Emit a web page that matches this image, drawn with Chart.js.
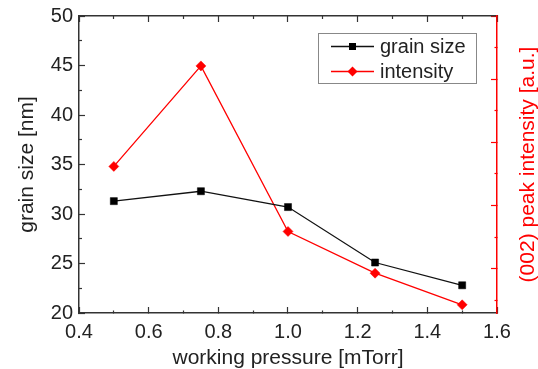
<!DOCTYPE html>
<html>
<head>
<meta charset="utf-8">
<script src="https://cdn.jsdelivr.net/npm/chart.js"></script>
<style>
    html, body { margin: 0; padding: 0; background: #fff; }
    #wrap { width: 538px; height: 369px; }
</style>
</head>
<body>
<div id="wrap"><canvas id="grainChart" width="538" height="369"></canvas></div>
<script>
// values
const pressure = [0.5, 0.75, 1.0, 1.25, 1.5];          // working pressure [mTorr]
const grainSize = [31.3, 32.3, 30.7, 25.1, 22.8];       // grain size [nm]
const peakIntensity = [2.62, 4.21, 1.59, 0.93, 0.43];   // (002) peak intensity [a.u.]

const seriesNames = ['grain size', 'intensity'];
const xTitle = 'working pressure [mTorr]';
const yTitle = 'grain size [nm]';
const y2Title = '(002) peak intensity [a.u.]';

const FONT = "'Liberation Sans', Arial, sans-serif";
const AXIS = '#333';
const TEXT = '#222';
const RED = '#ff0000';
const MAJOR_LEN = 6;
const MINOR_LEN = 3;

function isMajor(value, step) {
    const r = value / step;
    return Math.abs(r - Math.round(r)) < 1e-6;
}

// inward tick marks; minor ticks are shortened with a dash pattern
function tickGrid(color, majorStep, insideFirst) {
    return {
        display: true,
        drawOnChartArea: false,
        drawTicks: true,
        tickLength: -MAJOR_LEN,
        tickColor: color,
        tickWidth: 1.2,
        tickBorderDash: c => (c.tick && !isMajor(c.tick.value, majorStep)) ? [MINOR_LEN, MAJOR_LEN] : [],
        tickBorderDashOffset: c => (c.tick && !isMajor(c.tick.value, majorStep) && insideFirst) ? MAJOR_LEN : 0
    };
}

// fixed box sizes so the plot frame sits where the figure has it
function fixSize(width, height) {
    return s => {
        if (width !== null) s.width = width;
        if (height !== null) s.height = height;
        s.paddingTop = 0;
        s.paddingBottom = 0;
        s.paddingLeft = 0;
        s.paddingRight = 0;
    };
}

// right axis title reads bottom-to-top, plus the boxed legend
const extrasPlugin = {
    id: 'extras',
    afterDraw(chart) {
        const ctx = chart.ctx;
        const area = chart.chartArea;
        ctx.save();
        ctx.font = '21px ' + FONT;
        ctx.fillStyle = RED;
        ctx.textAlign = 'center';
        ctx.textBaseline = 'middle';
        ctx.translate(528, (area.top + area.bottom) / 2);
        ctx.rotate(-Math.PI / 2);
        ctx.fillText(y2Title, 0, 0);
        ctx.restore();

        // legend box
        ctx.save();
        ctx.strokeStyle = '#888';
        ctx.lineWidth = 1;
        ctx.strokeRect(318.5, 33.5, 158, 50);
        chart.data.datasets.forEach((ds, i) => {
            const y = 46.5 + i * 25;
            ctx.strokeStyle = ds.borderColor;
            ctx.lineWidth = ds.borderWidth;
            ctx.beginPath();
            ctx.moveTo(331, y);
            ctx.lineTo(374, y);
            ctx.stroke();
            ctx.fillStyle = ds.pointBackgroundColor;
            ctx.beginPath();
            if (ds.pointStyle === 'rect') {
                ctx.rect(352.5 - 3.5, y - 3.5, 7, 7);
            } else {
                ctx.moveTo(352.5, y - 5);
                ctx.lineTo(357.5, y);
                ctx.lineTo(352.5, y + 5);
                ctx.lineTo(347.5, y);
                ctx.closePath();
            }
            ctx.fill();
            ctx.fillStyle = TEXT;
            ctx.font = '20px ' + FONT;
            ctx.textAlign = 'left';
            ctx.textBaseline = 'middle';
            ctx.fillText(ds.label, 380, y + 1);
        });
        ctx.restore();
    }
};

function createGrainChart() {
    const ctx = document.getElementById('grainChart').getContext('2d');
    const tickFont = { family: FONT, size: 20 };
    const titleFont = { family: FONT, size: 21 };

    window.grainChart = new Chart(ctx, {
        type: 'line',
        data: {
            datasets: [
                {
                    label: seriesNames[0],
                    data: pressure.map((p, i) => ({ x: p, y: grainSize[i] })),
                    xAxisID: 'x',
                    yAxisID: 'y',
                    borderColor: '#111',
                    borderWidth: 1.3,
                    pointStyle: 'rect',
                    pointRadius: 5,
                    pointBorderWidth: 0.5,
                    pointBackgroundColor: '#000',
                    pointBorderColor: '#000',
                    tension: 0,
                    fill: false
                },
                {
                    label: seriesNames[1],
                    data: pressure.map((p, i) => ({ x: p, y: peakIntensity[i] })),
                    xAxisID: 'x',
                    yAxisID: 'y2',
                    borderColor: RED,
                    borderWidth: 1.3,
                    pointStyle: 'rectRot',
                    pointRadius: 5,
                    pointBorderWidth: 0.5,
                    pointBackgroundColor: RED,
                    pointBorderColor: RED,
                    tension: 0,
                    fill: false
                }
            ]
        },
        options: {
            responsive: false,
            animation: false,
            layout: { padding: 0 },
            plugins: {
                legend: { display: false },
                tooltip: { enabled: false }
            },
            scales: {
                x: {
                    type: 'linear',
                    position: 'bottom',
                    min: 0.4,
                    max: 1.6,
                    afterFit: fixSize(null, 56),
                    grid: tickGrid(AXIS, 0.2, false),
                    border: { display: true, color: AXIS, width: 1.5 },
                    ticks: {
                        stepSize: 0.1,
                        autoSkip: false,
                        maxRotation: 0,
                        padding: 13,
                        color: TEXT,
                        font: tickFont,
                        callback: v => isMajor(v, 0.2) ? v.toFixed(1) : ''
                    },
                    title: {
                        display: true,
                        text: xTitle,
                        color: TEXT,
                        font: titleFont,
                        padding: { top: 0, bottom: -2 }
                    }
                },
                xTop: {
                    type: 'linear',
                    position: 'top',
                    min: 0.4,
                    max: 1.6,
                    afterFit: fixSize(null, 16),
                    grid: tickGrid(AXIS, 0.2, true),
                    border: { display: true, color: AXIS, width: 1.5 },
                    ticks: { display: false, stepSize: 0.1 }
                },
                y: {
                    type: 'linear',
                    position: 'left',
                    min: 20,
                    max: 50,
                    afterFit: fixSize(79, null),
                    grid: tickGrid(AXIS, 5, true),
                    border: { display: true, color: AXIS, width: 1.5 },
                    ticks: {
                        stepSize: 2.5,
                        autoSkip: false,
                        padding: 12,
                        color: TEXT,
                        font: tickFont,
                        callback: v => isMajor(v, 5) ? String(v) : ''
                    },
                    title: {
                        display: true,
                        text: yTitle,
                        color: TEXT,
                        font: titleFont,
                        padding: { top: 14.5, bottom: 0 }
                    }
                },
                y2: {
                    type: 'linear',
                    position: 'right',
                    min: 0.3,
                    max: 5,
                    afterFit: fixSize(41, null),
                    grid: tickGrid(RED, 1, false),
                    border: { display: true, color: RED, width: 1.5 },
                    ticks: { display: false, stepSize: 0.5, includeBounds: false }
                }
            }
        },
        plugins: [extrasPlugin]
    });
}

createGrainChart();
</script>
</body>
</html>
